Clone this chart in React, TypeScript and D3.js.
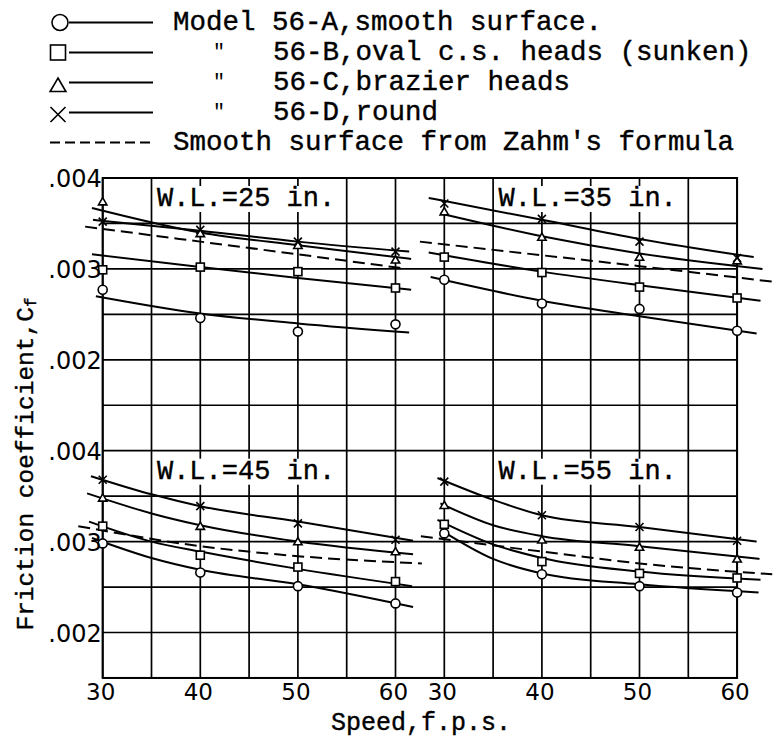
import React from "react";
import * as d3 from "d3";

// ---------- data ----------
const panelTitles = ["W.L.=25 in.", "W.L.=35 in.", "W.L.=45 in.", "W.L.=55 in."];
const speeds = [30, 40, 50, 60];
const xTickLabels = [30, 40, 50, 60];
const yTickValues = [0.004, 0.003, 0.002];

// measured points [panel][speed index]
const modelA = [
  [0.00277, 0.00246, 0.00231, 0.00239],
  [0.00288, 0.00262, 0.00256, 0.00232],
  [0.00298, 0.00266, 0.00251, 0.00232],
  [0.00309, 0.00264, 0.00251, 0.00244],
];
const modelB = [
  [0.00299, 0.00302, 0.00297, 0.00279],
  [0.00313, 0.00296, 0.0028, 0.00268],
  [0.00317, 0.00285, 0.00272, 0.00256],
  [0.00319, 0.00278, 0.00265, 0.0026],
];
const modelC = [
  [0.00374, 0.00339, 0.00326, 0.0031],
  [0.00363, 0.00335, 0.00313, 0.00309],
  [0.00348, 0.00317, 0.003, 0.00289],
  [0.0034, 0.00302, 0.00294, 0.00281],
];
const modelD = [
  [0.00352, 0.00343, 0.0033, 0.00319],
  [0.00372, 0.00355, 0.0033, 0.00312],
  [0.00368, 0.00339, 0.0032, 0.00302],
  [0.00366, 0.00329, 0.00316, 0.00301],
];

// faired curves [panel] -> list of [speed, Cf]
const curveA = [
  [[29.3, 0.0027], [40, 0.00251], [50, 0.0024], [61.4, 0.0023]],
  [[28.6, 0.00291], [40, 0.00265], [50, 0.00248], [62.0, 0.00229]],
  [[28.9, 0.00304], [35, 0.00282], [40, 0.00269], [50, 0.00253], [61.8, 0.00228]],
  [[29.6, 0.00313], [35, 0.00281], [40, 0.00265], [50, 0.00253], [62.2, 0.00244]],
];
const curveB = [
  [[28.9, 0.00316], [40, 0.00302], [50, 0.0029], [61.6, 0.00277]],
  [[28.4, 0.00318], [40, 0.00297], [50, 0.00282], [62.4, 0.00265]],
  [[28.6, 0.00322], [35, 0.003], [40, 0.00289], [50, 0.0027], [61.7, 0.00251]],
  [[29.3, 0.00324], [35, 0.00297], [40, 0.00282], [50, 0.00267], [62.4, 0.00258]],
];
const curveC = [
  [[28.9, 0.00367], [40, 0.0034], [50, 0.00326], [61.6, 0.00311]],
  [[29.6, 0.00361], [40, 0.00336], [50, 0.00317], [62.6, 0.003]],
  [[28.4, 0.00353], [35, 0.00331], [40, 0.00318], [50, 0.003], [61.8, 0.00286]],
  [[29.6, 0.00342], [35, 0.00318], [40, 0.00306], [50, 0.00295], [62.3, 0.00281]],
];
const curveD = [
  [[29.0, 0.00354], [40, 0.00342], [50, 0.0033], [61.4, 0.00319]],
  [[28.4, 0.00378], [40, 0.00354], [50, 0.00333], [61.7, 0.00313]],
  [[28.8, 0.00372], [35, 0.00352], [40, 0.00339], [50, 0.00322], [61.8, 0.00301]],
  [[29.3, 0.0037], [35, 0.00346], [40, 0.00329], [50, 0.00316], [62.0, 0.003]],
];
const zahm = [
  [[28.2, 0.003465], [40, 0.0033], [50, 0.00316], [60.5, 0.00301]],
  [[27.5, 0.0033], [40, 0.00315], [50, 0.00303], [63.6, 0.00286]],
  [[27.5, 0.00317], [40, 0.00295], [50, 0.00284], [62.7, 0.00276]],
  [[27.6, 0.00306], [40, 0.00289], [50, 0.00276], [63.6, 0.00264]],
];

const legendLabels = [
  "Model 56-A,smooth surface.",
  "56-B,oval c.s. heads (sunken)",
  "56-C,brazier heads",
  "56-D,round",
  "Smooth surface from Zahm's formula",
];

// ---------- layout ----------
const W = 773;
const H = 739;
const X0 = 102.7;
const CX = 48.8; // 5 f.p.s.
const Y0 = 178;
const CY = 45.45; // .0005

const xLeft = d3.scaleLinear().domain([30, 60]).range([X0, X0 + 6 * CX]);
const xRight = d3.scaleLinear().domain([30, 60]).range([X0 + 7 * CX, X0 + 13 * CX]);
const yTop = d3.scaleLinear().domain([0.0015, 0.004]).range([Y0 + 5 * CY, Y0]);
const yBot = d3.scaleLinear().domain([0.0015, 0.004]).range([Y0 + 11 * CY, Y0 + 6 * CY]);

const panels = [
  { x: xLeft, y: yTop },
  { x: xRight, y: yTop },
  { x: xLeft, y: yBot },
  { x: xRight, y: yBot },
];

const MONO = "'Liberation Mono', 'DejaVu Sans Mono', monospace";
const SANS = "'DejaVu Sans', sans-serif";

function Marker({ kind, cx, cy, s }: { kind: string; cx: number; cy: number; s: number }) {
  const sw = 1.6;
  if (kind === "circle")
    return <circle cx={cx} cy={cy} r={s} fill="#fff" stroke="#000" strokeWidth={sw} />;
  if (kind === "square")
    return <rect x={cx - s} y={cy - s} width={2 * s} height={2 * s} fill="#fff" stroke="#000" strokeWidth={sw} />;
  if (kind === "triangle")
    return (
      <path
        d={`M${cx},${cy - s}L${cx + s * 1.05},${cy + s * 0.8}L${cx - s * 1.05},${cy + s * 0.8}Z`}
        fill="#fff"
        stroke="#000"
        strokeWidth={sw}
      />
    );
  return (
    <path
      d={`M${cx - s},${cy - s}L${cx + s},${cy + s}M${cx - s},${cy + s}L${cx + s},${cy - s}`}
      stroke="#000"
      strokeWidth={sw}
      fill="none"
    />
  );
}

export default function App() {
  const seriesPts = [
    { kind: "circle", pts: modelA, curve: curveA },
    { kind: "square", pts: modelB, curve: curveB },
    { kind: "triangle", pts: modelC, curve: curveC },
    { kind: "x", pts: modelD, curve: curveD },
  ];

  const vLines = [...d3.range(30, 61, 5).map((v) => xLeft(v)), ...d3.range(30, 61, 5).map((v) => xRight(v))];
  const hLines = [
    ...d3.range(0.0015, 0.00401, 0.0005).map((v) => yTop(v)),
    ...d3.range(0.0015, 0.00401, 0.0005).map((v) => yBot(v)),
  ];
  const left = xLeft(30);
  const right = xRight(60);
  const top = yTop(0.004);
  const bottom = yBot(0.0015);

  const legendY = (i: number) => 22.5 + 30 * i;
  const legendKinds = ["circle", "square", "triangle", "x"];

  return (
    <svg
      width={W}
      height={H}
      viewBox={`0 0 ${W} ${H}`}
      style={{ position: "absolute", left: 0, top: 0, background: "#fff" }}
    >
      <rect x={0} y={0} width={W} height={H} fill="#fff" />

      {/* legend */}
      {legendKinds.map((k, i) => (
        <g key={k}>
          <Marker kind={k} cx={k === "circle" ? 60 : 58} cy={legendY(i) + (k === "triangle" ? 3 : k === "x" ? 2 : 0)} s={k === "circle" ? 8 : 7.5} />
          <line x1={69} x2={153} y1={legendY(i)} y2={legendY(i)} stroke="#000" strokeWidth={2} />
        </g>
      ))}
      <line x1={50} x2={153} y1={legendY(4)} y2={legendY(4)} stroke="#000" strokeWidth={2} strokeDasharray="10 5" />
      {legendLabels.map((t, i) => (
        <text
          key={t}
          x={i === 0 || i === 4 ? 173 : 273}
          y={legendY(i)}
          dominantBaseline="central"
          fontFamily={MONO}
          fontSize={27.5}
          stroke="#000"
          strokeWidth={0.4}
        >
          {t}
        </text>
      ))}
      {[1, 2, 3].map((i) => (
        <text key={i} x={213} y={legendY(i)} dominantBaseline="central" fontFamily={MONO} fontSize={20}>
          "
        </text>
      ))}

      {/* grid */}
      {vLines.map((x, i) => (
        <line key={"v" + i} x1={x} x2={x} y1={top} y2={bottom} stroke="#000" strokeWidth={1.7} />
      ))}
      {hLines.map((y, i) => (
        <line key={"h" + i} x1={left} x2={right} y1={y} y2={y} stroke="#000" strokeWidth={1.7} />
      ))}
      <rect x={left} y={top} width={right - left} height={bottom - top} fill="none" stroke="#000" strokeWidth={2} />

      {/* panel titles with white box */}
      {panels.map((p, i) => {
        const x1 = p.x(35) + 2;
        const x2 = p.x(55) - 2;
        const t = p.y(0.004);
        return (
          <g key={"t" + i}>
            <rect x={x1} y={t + 8} width={x2 - x1} height={26} fill="#fff" />
            <text
              x={(p.x(35) + p.x(55)) / 2 - 3}
              y={t + 21}
              textAnchor="middle"
              dominantBaseline="central"
              fontFamily={MONO}
              fontSize={27}
              stroke="#000"
              strokeWidth={0.4}
            >
              {panelTitles[i]}
            </text>
          </g>
        );
      })}

      {/* curves */}
      {panels.map((p, pi) => {
        const line = d3
          .line<number[]>()
          .x((d) => p.x(d[0]))
          .y((d) => p.y(d[1]))
          .curve(d3.curveMonotoneX);
        return (
          <g key={"c" + pi}>
            {seriesPts.map((s) => (
              <path key={s.kind} d={line(s.curve[pi]) || ""} fill="none" stroke="#000" strokeWidth={2} />
            ))}
            <path d={line(zahm[pi]) || ""} fill="none" stroke="#000" strokeWidth={2} strokeDasharray="12 6" />
          </g>
        );
      })}

      {/* points */}
      {panels.map((p, pi) => (
        <g key={"p" + pi}>
          {seriesPts.map((s) =>
            speeds.map((sp, k) => (
              <Marker key={s.kind + k} kind={s.kind} cx={p.x(sp)} cy={p.y(s.pts[pi][k])} s={s.kind === "circle" ? 4.5 : 4} />
            ))
          )}
        </g>
      ))}

      {/* y tick labels */}
      {[yTop, yBot].map((ys, j) =>
        yTickValues.map((v) => (
          <text
            key={j + "-" + v}
            x={left - 1}
            y={ys(v) + 1}
            textAnchor="end"
            dominantBaseline="central"
            fontFamily={SANS}
            fontSize={24}
          >
            {d3.format(".3f")(v).replace(/^0/, "")}
          </text>
        ))
      )}

      {/* x tick labels */}
      {[xLeft, xRight].map((xs, j) =>
        xTickLabels.map((v) => (
          <text
            key={j + "-" + v}
            x={xs(v) - 2}
            y={bottom + 14}
            textAnchor="middle"
            dominantBaseline="central"
            fontFamily={SANS}
            fontSize={23}
          >
            {v}
          </text>
        ))
      )}

      {/* axis titles */}
      <text
        x={421}
        y={723}
        textAnchor="middle"
        dominantBaseline="central"
        fontFamily={MONO}
        fontSize={25}
        stroke="#000"
        strokeWidth={0.4}
      >
        Speed,f.p.s.
      </text>
      <text
        transform="translate(26,464) rotate(-90)"
        textAnchor="middle"
        dominantBaseline="central"
        fontFamily={MONO}
        fontSize={24.5}
        stroke="#000"
        strokeWidth={0.4}
      >
        Friction coefficient,C
        <tspan fontSize={16} dy={6}>f</tspan>
      </text>
    </svg>
  );
}
